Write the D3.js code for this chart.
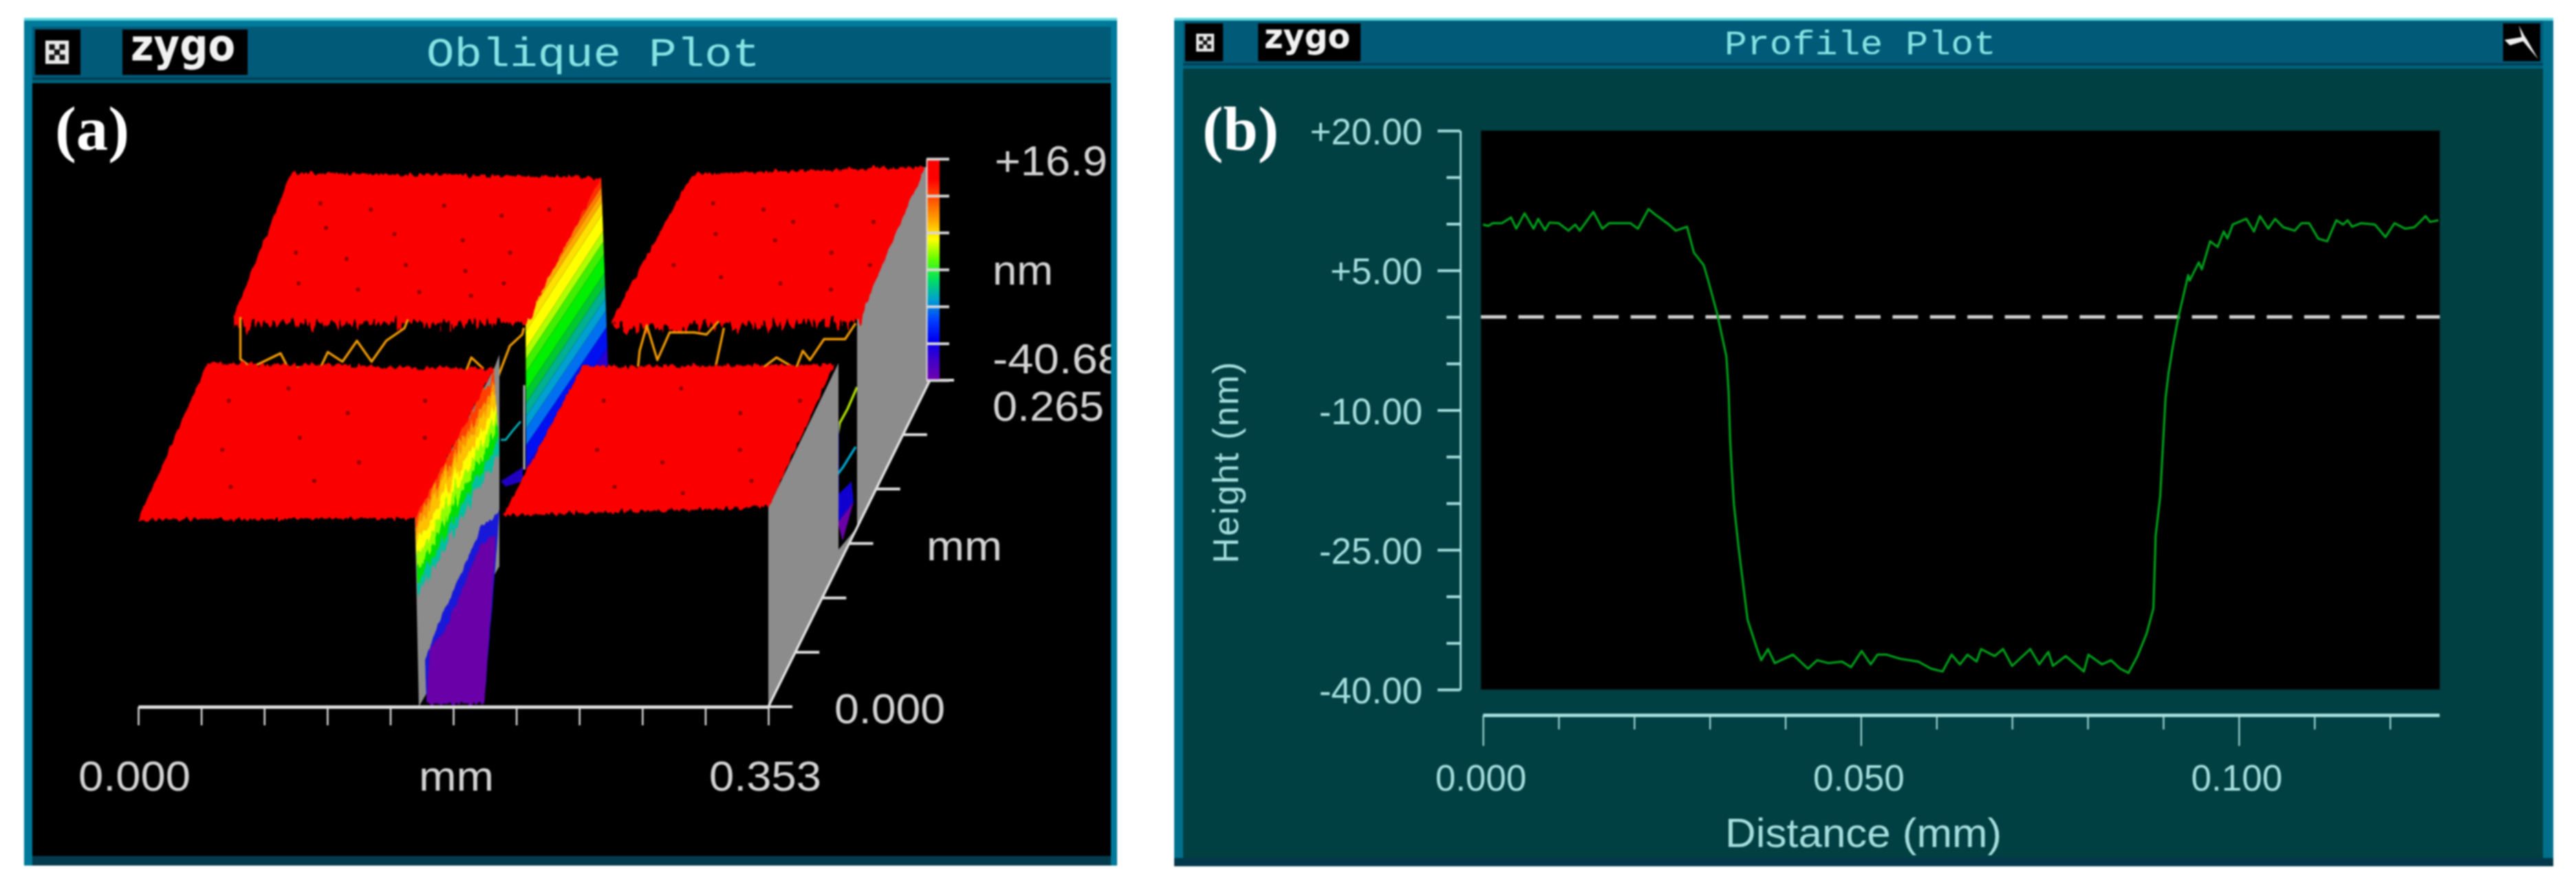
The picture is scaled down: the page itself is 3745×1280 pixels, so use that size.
<!DOCTYPE html>
<html><head><meta charset="utf-8">
<style>html,body{margin:0;padding:0;background:#fff;overflow:hidden}svg{display:block}</style>
<script src="https://d3js.org/d3.v7.min.js"></script></head>
<body><svg id="c" width="3745" height="1280"></svg>
<script>
// ---- panel (b) profile trace: distance (mm), height (nm)
const profileX=[0,.0007,.0013,.0025,.0037,.0044,.0055,.0067,.0073,.0082,.0088,.01,.0113,.0122,.0128,.0146,.0158,.0167,.0195,.0205,.0219,.0228,.0246,.0255,.027,.0279,.0292,.0298,.031,.0322,.0325,.0327,.0329,.0332,.0338,.0344,.035,.0362,.0368,.0377,.0386,.041,.043,.0442,.0457,.0475,.0487,.0501,.0513,.0522,.0534,.0552,.0576,.0593,.0608,.062,.0631,.0641,.0653,.0659,.0677,.0688,.07,.0724,.0736,.0748,.0754,.0771,.0795,.0801,.0819,.0831,.0843,.0854,.0866,.0878,.0887,.089,.0896,.09,.0903,.0907,.0913,.092,.0927,.0933,.0935,.0947,.0951,.0962,.0972,.098,.0985,.0992,.101,.102,.1028,.1039,.1048,.1059,.1074,.1083,.1093,.1105,.1117,.1129,.1138,.1144,.115,.1162,.118,.1194,.1206,.122,.1232,.1238,.1247,.1253,.1264];
const profileZ=[9.92,9.77,10.07,10.07,10.68,9.47,11.13,9.47,10.53,9.32,10.13,10.07,9.26,9.92,9.26,11.28,9.47,10.07,10.07,9.47,11.58,10.98,9.92,9.26,9.68,6.91,5.56,3.9,.29,-4.23,-8.15,-13.21,-16.22,-20.14,-24.66,-28.57,-32.49,-35.5,-36.85,-35.65,-37.16,-36.25,-37.76,-36.85,-37.16,-37,-37.6,-35.86,-37.3,-36.25,-36.25,-36.7,-37,-37.76,-38.06,-36.25,-37.3,-36.25,-37,-35.65,-36.4,-35.65,-37.46,-35.65,-37.3,-35.95,-37.46,-36.4,-38.06,-36.25,-37.3,-36.85,-37.76,-38.21,-36.4,-34,-31.28,-23.45,-19.23,-13.21,-8.75,-6.04,-3.03,-.02,2.39,4.5,3.9,5.86,5.1,8.12,7.51,9.17,8.42,9.92,10.53,9.17,10.83,9.47,10.53,9.62,9.26,10.07,10.07,8.42,8.12,10.38,9.92,10.38,9.68,10.07,9.92,8.57,10.07,9.47,9.62,10.07,10.83,10.2,10.38];
const profileYMajor=[20,5,-10,-25,-40];
const profileYMinor=[15,10,0,-5,-15,-20,-30,-35];
const profileYLabels=["+20.00","+5.00","-10.00","-25.00","-40.00"];
const profileXMajor=[0,.05,.1];
const profileXMinor=[.01,.02,.03,.04,.06,.07,.08,.09,.11,.12];
const profileXLabels=["0.000","0.050","0.100"];

// ---- panel (a) surface corners: x (mm), y (mm), height (nm)
const plateauBackLeft=[[0,.2515,12.9],[.1734,.2515,11.82],[.1653,.1556,6.7],[0,.1556,6.7]];
const plateauBackRight=[[.2243,.2515,12.64],[.3549,.2515,14.3],[.3511,.1556,6.7],[.2116,.1556,5.39]];
const plateauFrontLeft=[[0,.1139,8.14],[.1603,.1139,6.49],[.1553,0,4.4],[0,0,4.06]];
const plateauFrontRight=[[.2096,.1139,7.15],[.3511,.1139,7.64],[.353,0,7.02],[.2042,0,5.04]];
const laceBackLeft=[[0,.175,7.6],[.1665,.175,7.6],[.1653,.1556,5.2],[0,.1556,5.2]];
const laceBackRight=[[.2145,.175,6.5],[.3515,.175,7.8],[.3511,.1556,5.5],[.2116,.1556,4]];
const curtainFront=[[.353,0,-40.68],[.353,0,7.02],[.353,.1139,7.64],[.353,.115,7.64],[.353,.115,-37],[.353,.1455,-40.68]];
const curtainBack=[[.353,.1455,-40.68],[.353,.1455,9.65],[.353,.2515,14.3],[.353,.26,11.8],[.353,.265,-40.68]];
const wallGrey=[[.1572,0,-40.68],[.155,0,4.4],[.1603,.1139,6.5],[.1634,.1139,10],[.1634,.1139,-40.68]];
// step walls: height break points and their band colours
const backWallZ=[11.8,9.6,8,6,3.2,-1,-3.5,-6.6,-11,-14,-17,-20,-24,-29,-33];
const backWallColors=["#ff3000","#ff7a00","#ffa800","#ffe000","#ffff00","#b0ff00","#40f000","#00f000","#00c830","#00b090","#00a0d0","#0070f0","#0010f0","#2a00d0"];
const frontWallZ=[6,3,1,-2,-5,-8,-11,-13.7];
const frontWallColors=["#ff4000","#ff9000","#ffc000","#ffff00","#90ff00","#00e000","#00c0a0"];
// floor of the step, read in the front plane: x (mm), height (nm)
const floorPurple=[[.1615,-40],[.1634,-26.5],[.1715,-22.6],[.1838,-10.4],[.1919,-1.7],[.2,.3],[.2,-3.2],[.1938,-40]];
const floorBlue=[[.1607,-29.5],[.1684,-20.4],[.1815,-8.1],[.1923,2.6],[.2023,5.9],[.2008,-3.2],[.1938,-40],[.1615,-40]];
// profile lines seen through the gap, plane y=0.1139: x (mm), height (nm)
const gapTraces=[
 [[.0183,19],[.0183,8.9],[.0245,6.9],[.0408,10.3],[.0449,6.9],[.0632,6.9],[.0673,10.6],[.0755,8.3],[.0836,13.3],[.0918,8.3],[.1,13.3],[.1102,16.3],[.1122,18.4]],
 [[.1447,6],[.1477,9.3],[.1545,6.6]],
 [[.1624,4.4],[.1693,12.1],[.1762,14.8],[.1771,16.4]],
 [[.2411,7.1],[.242,10.9],[.246,17],[.2519,8.7],[.2588,15.3],[.2725,15.3],[.2794,14.8],[.2863,18]],
 [[.2843,6.6],[.2892,16.4]],
 [[.304,6],[.3118,7.1],[.3187,9.3],[.3295,6.6],[.3334,10.9],[.3374,8.7],[.3453,13.7],[.3571,13.7],[.363,17.5]]];
const tealTrace=[[.1642,-10.4],[.1669,-10.4],[.1707,-8.3],[.1753,-6]];
const blueBlob=[[.1642,-20.3],[.1765,-17],[.1765,-20.3],[.1669,-21.6]];
const edgeLine=[[.1773,2.7],[.1773,-17.5]];
// gap in the right side wall, plane x=0.353: y (mm), height (nm)
const sideTraceA=[[.1455,-7.1],[.1297,-7.7],[.1173,-7.3],[.1139,-9]];
const sideTraceB=[[.1139,-6.3],[.1139,-26.9]];
const sideTraceC=[[.1432,-20.7],[.1218,-19.4],[.1139,-18.6]];
const sideBlue=[[.1139,-23.6],[.1364,-27],[.1398,-32.9],[.1139,-30.2]];
const sidePurple=[[.1139,-30.2],[.1398,-32.9],[.1218,-36.9]];
// pits on the red surface: x (mm), y (mm)
const pitsBack=[[.02,.24],[.05,.235],[.09,.238],[.125,.23],[.15,.235],[.03,.22],[.07,.215],[.11,.21],[.14,.2],[.02,.2],[.05,.195],[.085,.19],[.12,.185],[.145,.175],[.03,.175],[.065,.17],[.1,.168],[.13,.165],[.24,.24],[.27,.235],[.31,.238],[.335,.225],[.25,.215],[.285,.21],[.32,.2],[.345,.19],[.235,.19],[.265,.18],[.3,.175],[.33,.17],[.29,.225]];
const pitsFront=[[.02,.09],[.05,.1],[.09,.08],[.13,.09],[.03,.05],[.07,.06],[.11,.04],[.14,.06],[.045,.02],[.09,.025],[.23,.09],[.27,.1],[.31,.08],[.34,.09],[.24,.05],[.28,.04],[.32,.05],[.26,.02],[.3,.015],[.335,.025]];
const colorbarStops=["#ff0000","#ff0000","#ff5000","#ffa000","#ffff00","#60ff00","#00e060","#00a0d0","#0040ff","#0000f0","#4000c8","#7000b0"];
const colorbarTicks=[16.9,7.3,-2.3,-11.9,-21.5,-31.1,-40.68];
const obliqueXTicks=[0,.0353,.0706,.1059,.1412,.1765,.2118,.2471,.2824,.3177,.353];
const obliqueYTicks=[0,.0442,.0883,.1325,.1767,.2208,.265];

const svg=d3.select("#c");
const defs=svg.append("defs");
function roughen(id,fx,fy,scale,seed){
  const f=defs.append("filter").attr("id",id).attr("filterUnits","userSpaceOnUse").attr("x",0).attr("y",0).attr("width",3745).attr("height",1280).attr("color-interpolation-filters","sRGB");
  f.append("feTurbulence").attr("type","fractalNoise").attr("baseFrequency",fx+" "+fy).attr("numOctaves",2).attr("seed",seed).attr("result","n");
  f.append("feColorMatrix").attr("in","n").attr("type","matrix").attr("values","0 0 0 0 .5  0 1 0 0 0  0 0 0 0 0  0 0 0 0 1").attr("result","m");
  f.append("feDisplacementMap").attr("in","SourceGraphic").attr("in2","m").attr("scale",scale).attr("xChannelSelector","R").attr("yChannelSelector","G");
}
roughen("edgeS",.16,.04,14,4);
roughen("edgeL",.14,.03,44,9);
roughen("edgeW",.22,.012,46,6);
const cpa=defs.append("clipPath").attr("id","innerA");cpa.append("rect").attr("x",47).attr("y",121).attr("width",1568).attr("height",1124);
const cpb=defs.append("clipPath").attr("id","plotB");cpb.append("rect").attr("x",2153).attr("y",190).attr("width",1394).attr("height",813);

const root=svg.append("g").style("filter","blur(1px)");
const SANS="'Liberation Sans',Arial,sans-serif",MONO="'Liberation Mono',monospace",SERIF="'Liberation Serif',serif";
function label(g,t,x,y,size,fill,anchor,family,len,weight){
  const e=g.append("text").attr("x",x).attr("y",y).attr("font-size",size).attr("fill",fill).attr("text-anchor",anchor||"start").attr("font-family",family||SANS).text(t);
  if(len)e.attr("textLength",len).attr("lengthAdjust","spacingAndGlyphs");
  if(weight)e.attr("font-weight",weight);
  return e;
}
function rect(g,x,y,w,h,fill){return g.append("rect").attr("x",x).attr("y",y).attr("width",w).attr("height",h).attr("fill",fill);}
function diceIcon(g,x,y,s){
  rect(g,x,y,s,s,"#e8e8e8");
  const c=s/5;
  [[.8,.8],[3,.8],[.8,3],[3,3]].forEach(p=>rect(g,x+p[0]*c,y+p[1]*c,c*1.2,c*1.2,"#111"));
  rect(g,x+1.9*c,y+1.9*c,c*1.2,c*1.2,"#111");
}

// ================= panel (a) =================
const A=root.append("g");
rect(A,35,26,1589,1233,"#00799a");
rect(A,35,26,1589,4,"#5fd8e0");
rect(A,47,39,1568,82,"#005a78");
rect(A,47,113,1568,3,"#003c52");
rect(A,47,116,1568,5,"#00627c");
rect(A,47,121,1568,1124,"#000");
rect(A,47,1245,1568,14,"#043a4c");
rect(A,51,43,66,66,"#000");diceIcon(A,66,59,34);
rect(A,178,43,182,66,"#000");
label(A,"zygo",190,88,64,"#f2f2f2","start","'DejaVu Sans',sans-serif",152,"bold");
label(A,"Oblique Plot",620,96,60,"#86e4e4","start",MONO,485);
label(A,"(a)",80,218,92,"#fff","start",SERIF,108,"bold");

const xA=d3.scaleLinear([0,.353],[201,1117]);
const yRise=d3.scaleLinear([0,.265],[0,475]);
const zLift=d3.scaleLinear([-40.68,7.02],[0,290]);
const skew=235/475, baseY=1028;
const project=p=>[xA(p[0])+yRise(p[1])*skew, baseY-yRise(p[1])-zLift(p[2])];
const path3=d3.line().x(p=>project(p)[0]).y(p=>project(p)[1]);
const poly=(g,pts,fill)=>g.append("path").attr("d",path3(pts)+"Z").attr("fill",fill);
const polyline=(g,pts,stroke,w)=>g.append("path").attr("d",path3(pts)).attr("fill","none").attr("stroke",stroke).attr("stroke-width",w).attr("stroke-linejoin","round");

const scene=A.append("g").attr("clip-path","url(#innerA)");
const RED="#fb0000";
const wBack0=d3.scaleLinear([11.8,-33],[.1638,.1642]), wBack1=d3.scaleLinear([11.8,-33],[.1734,.1772]);
const wFront0=d3.scaleLinear([6,-13.7],[.155,.1565]), wFront1=d3.scaleLinear([6,-13.7],[.1603,.1634]);
const gaps=scene.append("g");
polyline(gaps,tealTrace.map(d=>[d[0],.1139,d[1]]),"#00b0b8",3);
poly(gaps,blueBlob.map(d=>[d[0],.1139,d[1]]),"#2000c0");
polyline(gaps,edgeLine.map(d=>[d[0],.1139,d[1]]),"#b8b8b8",3);
poly(gaps,sideBlue.map(d=>[.353,d[0],d[1]]),"#1000d0");
poly(gaps,sidePurple.map(d=>[.353,d[0],d[1]]),"#6a00a8");
polyline(gaps,sideTraceA.map(d=>[.353,d[0],d[1]]),"#b0e000",3.5);
polyline(gaps,sideTraceB.map(d=>[.353,d[0],d[1]]),"#1010d0",3.5);
polyline(gaps,sideTraceC.map(d=>[.353,d[0],d[1]]),"#00a8d0",3.5);

backWallColors.forEach((c,i)=>{
  const a=backWallZ[i],b=backWallZ[i+1];
  poly(scene,[[wBack0(a),.1556,a],[wBack1(a),.2515,a],[wBack1(b),.2515,b],[wBack0(b),.1556,b]],c);
});
poly(scene,curtainBack,"#8c8c8c");
const lace=scene.append("g").attr("filter","url(#edgeL)");
poly(lace,laceBackLeft,RED);
poly(lace,laceBackRight,RED);
const backRed=scene.append("g").attr("filter","url(#edgeS)");
poly(backRed,plateauBackLeft,RED);
poly(backRed,plateauBackRight,RED);
gapTraces.forEach(t=>polyline(scene,t.map(d=>[d[0],.1139,d[1]]),"#f09a00",3.4));
scene.selectAll(null).data(pitsBack).join("circle").attr("cx",d=>project([d[0],d[1],9])[0]).attr("cy",d=>project([d[0],d[1],9])[1]).attr("r",3).attr("fill","#900000");

poly(scene,wallGrey,"#8c8c8c");
const roughFloor=scene.append("g").attr("filter","url(#edgeS)");
poly(roughFloor,floorBlue.map(d=>[d[0],0,d[1]]),"#1818d8");
poly(roughFloor,floorPurple.map(d=>[d[0],0,d[1]]),"#6a00a8");
const roughWall=scene.append("g").attr("filter","url(#edgeW)");
frontWallColors.forEach((c,i)=>{
  const a=frontWallZ[i],b=frontWallZ[i+1];
  poly(roughWall,[[wFront0(a),0,a],[wFront1(a),.1139,a],[wFront1(b),.1139,b],[wFront0(b),0,b]],c);
});
poly(scene,curtainFront,"#8c8c8c");
const frontRed=scene.append("g").attr("filter","url(#edgeS)");
poly(frontRed,plateauFrontLeft,RED);
poly(frontRed,plateauFrontRight,RED);
scene.selectAll(null).data(pitsFront).join("circle").attr("cx",d=>project([d[0],d[1],6])[0]).attr("cy",d=>project([d[0],d[1],6])[1]).attr("r",3).attr("fill","#900000");

// x axis
const axA=A.append("g").attr("transform",`translate(0,${baseY})`).call(d3.axisBottom(xA).tickValues(obliqueXTicks).tickSize(27).tickSizeOuter(0).tickFormat(""));
axA.select(".domain").attr("stroke","#ddd").attr("stroke-width",5);
axA.selectAll(".tick line").attr("stroke","#ddd").attr("stroke-width",2.5);
// oblique y axis
const AXC="#e4e4e4";
const obl=A.append("g");
obl.append("line").attr("x1",project([.353,0,-40.68])[0]).attr("y1",baseY).attr("x2",project([.353,.265,-40.68])[0]).attr("y2",project([.353,.265,-40.68])[1]).attr("stroke",AXC).attr("stroke-width",3.5);
obl.selectAll(null).data(obliqueYTicks).join("line").each(function(d){
  const p=project([.353,d,-40.68]);
  d3.select(this).attr("x1",p[0]).attr("y1",p[1]).attr("x2",p[0]+35).attr("y2",p[1]).attr("stroke",AXC).attr("stroke-width",4);
});
// colour bar
const barY=d3.scaleLinear([-40.68,16.9],[553,231]);
const gid=defs.append("linearGradient").attr("id","bar").attr("x1",0).attr("y1",0).attr("x2",0).attr("y2",1);
colorbarStops.forEach((c,i)=>gid.append("stop").attr("offset",i/(colorbarStops.length-1)).attr("stop-color",c));
rect(A,1347,231,19,322,"url(#bar)");
const barAxis=A.append("g").attr("transform","translate(1347,0)").call(d3.axisRight(barY).tickValues(colorbarTicks).tickSize(33).tickSizeOuter(0).tickFormat(""));
barAxis.select(".domain").attr("stroke","#ddd").attr("stroke-width",2);
barAxis.selectAll(".tick line").attr("stroke","#d8d8d8").attr("stroke-width",4);
// labels
const la=A.append("g").attr("clip-path","url(#innerA)");
const LA="#d4d4d4";
label(la,"+16.9",1446,255,62,LA,"start",SANS,164);
label(la,"nm",1443,414,62,LA,"start",SANS,88);
label(la,"-40.68",1443,543,62,LA,"start",SANS,190);
label(la,"0.265",1443,612,62,LA,"start",SANS,162);
label(la,"mm",1347,815,62,LA,"start",SANS,110);
label(la,"0.000",1213,1052,62,LA,"start",SANS,161);
label(la,"0.000",114,1150,62,LA,"start",SANS,163);
label(la,"mm",609,1150,62,LA,"start",SANS,109);
label(la,"0.353",1031,1150,62,LA,"start",SANS,163);

// ================= panel (b) =================
const B=root.append("g");
rect(B,1707,26,2005,1234,"#00708c");
rect(B,1707,26,2005,4,"#5fd8e0");
rect(B,1720,30,1977,62,"#005a78");
rect(B,1720,92,1977,3,"#003c52");
rect(B,1720,95,1977,5,"#00627c");
rect(B,1720,100,1977,1148,"#003f42");
rect(B,1707,1248,2005,12,"#03384a");
rect(B,1723,34,55,55,"#000");diceIcon(B,1739,49,26);
rect(B,1829,34,149,55,"#000");
label(B,"zygo",1838,70,50,"#f2f2f2","start","'DejaVu Sans',sans-serif",125,"bold");
rect(B,3639,34,54,55,"#000");
B.append("path").attr("d","M3662 37L3666 54L3641 58L3649 66L3668 60L3690 86L3674 58L3670 52Z").attr("fill","#f0f0f0");
label(B,"Profile Plot",2507,79,50,"#86e4e4","start",MONO,395);
label(B,"(b)",1748,218,92,"#fff","start",SERIF,111,"bold");

const LB="#a6dede";
const xB=d3.scaleLinear([0,.1265],[2156,3546]);
const yB=d3.scaleLinear([20,-40],[190,1003]);
rect(B,2153,190,1394,813,"#000");
const plot=B.append("g").attr("clip-path","url(#plotB)");
plot.append("line").attr("x1",2153).attr("x2",3547).attr("y1",yB(0)).attr("y2",yB(0)).attr("stroke","#d4d4d4").attr("stroke-width",5).attr("stroke-dasharray","37 17.4");
plot.append("path").datum(d3.zip(profileX,profileZ)).attr("fill","none").attr("stroke","#00a01c").attr("stroke-width",3.2).attr("stroke-linejoin","round")
 .attr("d",d3.line().x(d=>xB(d[0])).y(d=>yB(d[1])));

const yMaj=B.append("g").attr("transform","translate(2123,0)").call(d3.axisLeft(yB).tickValues(profileYMajor).tickSize(33).tickSizeOuter(0).tickFormat(""));
const yMin=B.append("g").attr("transform","translate(2123,0)").call(d3.axisLeft(yB).tickValues(profileYMinor).tickSize(20).tickSizeOuter(0).tickFormat(""));
[yMaj,yMin].forEach(g=>{g.select(".domain").attr("stroke",LB).attr("stroke-width",2.5);g.selectAll(".tick line").attr("stroke",LB).attr("stroke-width",4);});
profileYMajor.forEach((v,i)=>label(B,profileYLabels[i],2068,yB(v)+20,53,LB,"end"));
const xMaj=B.append("g").attr("transform","translate(0,1040)").call(d3.axisBottom(xB).tickValues(profileXMajor).tickSize(45).tickSizeOuter(0).tickFormat(""));
const xMin=B.append("g").attr("transform","translate(0,1040)").call(d3.axisBottom(xB).tickValues(profileXMinor).tickSize(21).tickSizeOuter(0).tickFormat(""));
[xMaj,xMin].forEach(g=>{g.select(".domain").attr("stroke",LB).attr("stroke-width",5);g.selectAll(".tick line").attr("stroke",LB).attr("stroke-width",2.2);});
profileXMajor.forEach((v,i)=>label(B,profileXLabels[i],xB(v)-3,1150,53,LB,"middle"));
label(B,"Distance (mm)",2709,1232,60,LB,"middle",SANS,402);
B.append("text").attr("transform","translate(1800,673) rotate(-90)").attr("text-anchor","middle").attr("font-family",SANS).attr("font-size",52).attr("fill",LB).attr("textLength",293).attr("lengthAdjust","spacing").text("Height (nm)");
</script></body></html>
